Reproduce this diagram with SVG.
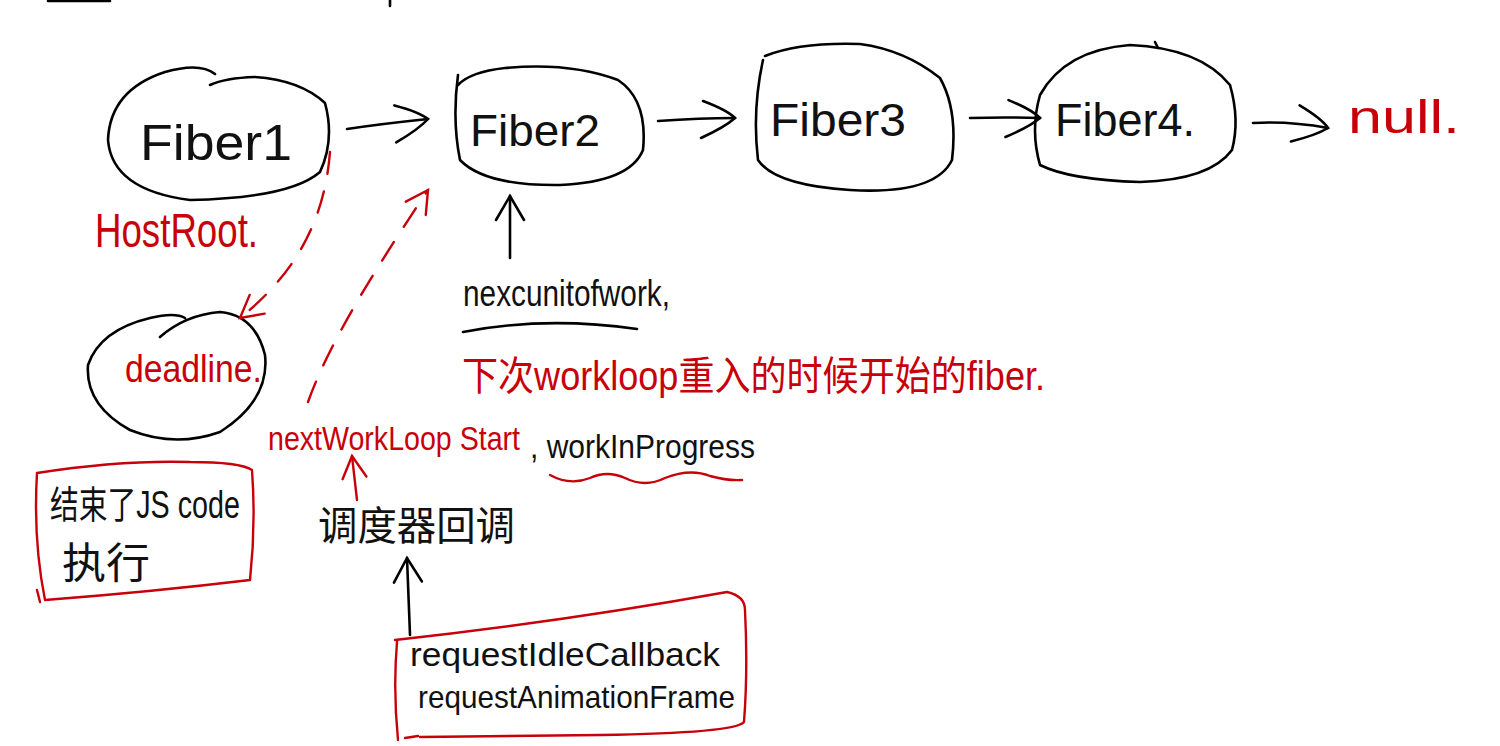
<svg xmlns="http://www.w3.org/2000/svg" width="1500" height="746" viewBox="0 0 1500 746">
<style>
.ink{fill:none;stroke:#000;stroke-width:2.6;stroke-linecap:round;stroke-linejoin:round}
.rink{fill:none;stroke:#c8000a;stroke-width:2.4;stroke-linecap:round;stroke-linejoin:round}
.dash{stroke-dasharray:22 18}
text{font-family:"Liberation Sans","Noto Sans CJK SC",sans-serif}
.bt{fill:#111}
.rt{fill:#c8000a}
</style>
<defs>
<marker id="headBig" viewBox="-40 -25 45 50" refX="0" refY="0" markerWidth="45" markerHeight="50" markerUnits="userSpaceOnUse" orient="auto">
<path d="M-32,-17 Q-8,-8 0,0 Q-10,9 -34,20" fill="none" stroke="#000" stroke-width="2.6" stroke-linecap="round"/>
</marker>
<marker id="headUp" viewBox="-30 -25 35 50" refX="0" refY="0" markerWidth="35" markerHeight="50" markerUnits="userSpaceOnUse" orient="auto">
<path d="M-24,-14 L0,0 L-24,14" fill="none" stroke="#000" stroke-width="2.6" stroke-linecap="round"/>
</marker>
<marker id="headRed" viewBox="-30 -25 35 50" refX="0" refY="0" markerWidth="35" markerHeight="50" markerUnits="userSpaceOnUse" orient="auto">
<path d="M-22,-12 L0,0 L-22,12" fill="none" stroke="#c8000a" stroke-width="2.4" stroke-linecap="round"/>
</marker>
</defs>
<rect width="1500" height="746" fill="#fff"/>

<!-- stray marks at top -->
<path class="ink" d="M48,1 L110,1 M390,0 L390,6" stroke-width="2"/>

<g id="fiber1">
<path class="ink" d="M215,74 Q200,62 165,72 Q110,90 108,140 Q112,190 190,200 Q290,198 320,172 Q335,140 325,103 Q300,80 255,77 Q225,78 210,85"/>
<text class="bt" x="140" y="160" font-size="50" textLength="152" lengthAdjust="spacingAndGlyphs">Fiber1</text>
</g>
<g id="fiber2">
<path class="ink" d="M458,75 Q452,120 460,160 Q485,186 560,185 Q630,182 643,150 Q648,100 618,80 Q570,62 505,68 Q470,72 458,85"/>
<text class="bt" x="470" y="146" font-size="44" textLength="130" lengthAdjust="spacingAndGlyphs">Fiber2</text>
</g>
<g id="fiber3">
<path class="ink" d="M763,60 Q752,110 758,160 Q775,185 850,190 Q935,195 952,160 Q958,110 940,78 Q905,50 860,44 Q800,42 765,56"/>
<text class="bt" x="770" y="136" font-size="46" textLength="136" lengthAdjust="spacingAndGlyphs">Fiber3</text>
</g>
<g id="fiber4">
<path class="ink" d="M1040,95 Q1065,50 1130,45 Q1200,48 1230,85 Q1240,120 1232,150 Q1210,180 1140,182 Q1070,180 1040,165 Q1030,130 1040,95"/>
<path class="ink" d="M1155,42 L1158,48" stroke-width="2"/>
<text class="bt" x="1055" y="136" font-size="46" textLength="140" lengthAdjust="spacingAndGlyphs">Fiber4.</text>
</g>
<g id="null">
<text class="rt" x="1348" y="133" font-size="46" textLength="112" lengthAdjust="spacingAndGlyphs">null.</text>
</g>
<g id="hostroot">
<text class="rt" x="95" y="247" font-size="48" textLength="163" lengthAdjust="spacingAndGlyphs">HostRoot.</text>
</g>
<g id="deadline">
<path class="ink" d="M160,337 Q185,315 220,312 Q255,315 265,355 Q270,400 220,432 Q175,448 130,430 Q85,405 88,365 Q100,330 150,318 Q175,312 185,318" stroke-width="2"/>
<text class="rt" x="125" y="382" font-size="38" textLength="137" lengthAdjust="spacingAndGlyphs">deadline.</text>
</g>
<g id="nextunitofwork">
<text class="bt" x="463" y="306" font-size="36" textLength="207" lengthAdjust="spacingAndGlyphs">nexcunitofwork,</text>
<path class="ink" d="M463,332 Q545,316 637,329"/>
</g>
<g id="note-red">
<text class="rt" x="462" y="390" font-size="40" textLength="583" lengthAdjust="spacingAndGlyphs">下次workloop重入的时候开始的fiber.</text>
</g>
<g id="nextworkloop">
<text class="rt" x="268" y="450" font-size="33" textLength="252" lengthAdjust="spacingAndGlyphs">nextWorkLoop Start</text>
<text class="bt" x="530" y="458" font-size="33" textLength="225" lengthAdjust="spacingAndGlyphs">, workInProgress</text>
<path class="rink" d="M550,475 Q570,486 590,478 Q607,470 625,478 Q645,488 665,478 Q690,468 710,476 Q728,481 742,480"/>
</g>
<g id="scheduler">
<text class="bt" x="318" y="540" font-size="40" textLength="197" lengthAdjust="spacingAndGlyphs">调度器回调</text>
</g>
<g id="js-end">
<path class="rink" d="M37,473 Q120,460 190,462 Q240,462 252,470 Q256,525 250,580 Q150,592 45,600 Q33,540 37,473 M37,590 L40,602"/>
<text class="bt" x="50" y="518" font-size="38" textLength="190" lengthAdjust="spacingAndGlyphs">结束了JS code</text>
<text class="bt" x="62" y="578" font-size="42" textLength="88" lengthAdjust="spacingAndGlyphs">执行</text>
</g>
<g id="raf">
<path class="rink" d="M395,640 Q560,622 727,592 Q745,596 745,610 Q748,670 744,722 Q735,733 600,735 Q480,736 420,737 M397,642 Q393,690 398,740 M418,736 L405,738"/>
<text class="bt" x="410" y="666" font-size="34" textLength="310" lengthAdjust="spacingAndGlyphs">requestIdleCallback</text>
<text class="bt" x="418" y="708" font-size="32" textLength="317" lengthAdjust="spacingAndGlyphs">requestAnimationFrame</text>
</g>

<g id="connectors">
<path class="ink" d="M347,129 Q380,124 428,119" marker-end="url(#headBig)"/>
<path class="ink" d="M658,121 Q700,118 735,118" marker-end="url(#headBig)"/>
<path class="ink" d="M970,118 Q1005,117 1040,118" marker-end="url(#headBig)"/>
<path class="ink" d="M1253,123 Q1290,121 1328,128" marker-end="url(#headBig)"/>
<path class="ink" d="M510,258 L510,196" marker-end="url(#headUp)"/>
<path class="ink" d="M410,635 L407,558" marker-end="url(#headUp)"/>
<path class="rink" d="M357,500 L352,456" marker-end="url(#headRed)"/>
<path class="rink dash" d="M330,152 C325,215 300,270 240,318" marker-end="url(#headRed)"/>
<path class="rink dash" d="M308,402 C330,340 380,262 428,190" marker-end="url(#headRed)"/>
</g>
</svg>
